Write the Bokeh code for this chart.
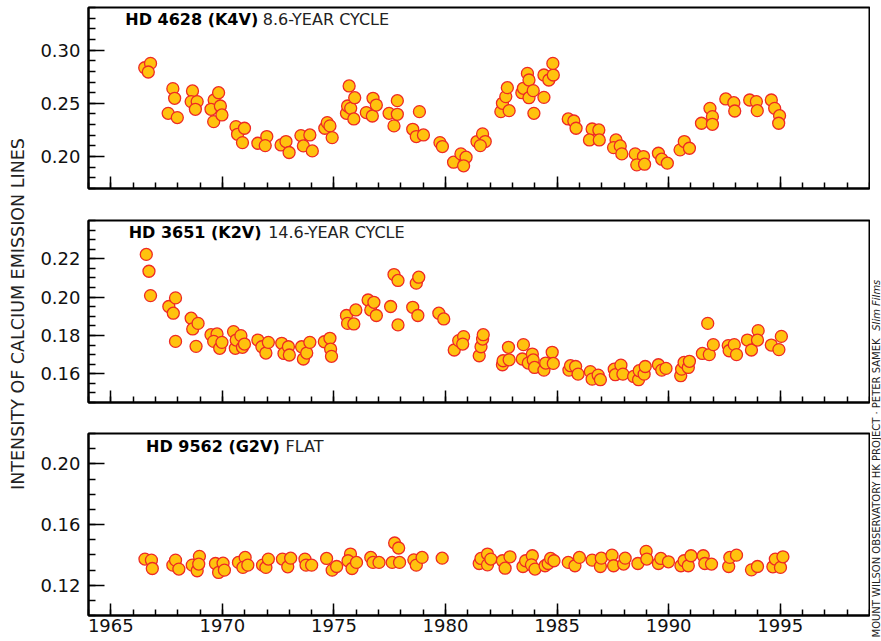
import math
from bokeh.plotting import figure
from bokeh.layouts import row, column
from bokeh.models import Range1d, FixedTicker, PrintfTickFormatter, Label
from bokeh.embed import file_html
from bokeh.resources import INLINE

FONT = "DejaVu Sans"
FILL = "#FFC20E"
EDGE = "#EE2A24"

# ---------------- data ----------------
x_major = [1965, 1970, 1975, 1980, 1985, 1990, 1995]
x_minor = list(range(1964, 2000))

# HD 4628 (K4V)
years_4628 = [
    1966.52, 1966.78, 1966.68,
    1967.78, 1967.86, 1967.57, 1967.98,
    1968.66, 1968.60, 1968.87, 1968.79, 1969.61,
    1969.63, 1969.49, 1969.83, 1969.91, 1969.98,
    1970.61, 1970.68, 1970.99, 1970.90,
    1971.59, 1971.99, 1971.92,
    1972.63, 1972.85, 1972.99,
    1973.52, 1973.63, 1973.92, 1974.03,
    1974.59, 1974.70, 1974.82, 1974.92,
    1975.56, 1975.61, 1975.68, 1975.75, 1975.93, 1975.89,
    1976.45, 1976.75, 1976.72, 1976.90,
    1977.47, 1977.69, 1977.84, 1977.84,
    1978.53, 1978.69, 1978.83, 1979.01,
    1979.75, 1979.86,
    1980.36, 1980.69, 1980.92, 1980.81,
    1981.41, 1981.66, 1981.78, 1981.56,
    1982.48, 1982.55, 1982.70, 1982.77, 1982.85,
    1983.42, 1983.49, 1983.67, 1983.74, 1983.74, 1983.93, 1983.96,
    1984.41, 1984.41, 1984.63, 1984.83, 1984.81,
    1985.50, 1985.75, 1985.85,
    1986.57, 1986.87, 1986.45, 1986.89,
    1987.64, 1987.53, 1987.83, 1987.90,
    1988.50, 1988.87, 1988.57, 1988.92,
    1989.54, 1989.69, 1989.94,
    1990.51, 1990.70, 1990.93,
    1991.47, 1991.85, 1991.96, 1991.96,
    1992.56, 1992.92, 1992.96,
    1993.63, 1993.93, 1993.97,
    1994.60, 1994.75, 1994.97, 1994.93,
]
values_4628 = [
    0.2834, 0.2875, 0.2794,
    0.2638, 0.2547, 0.2406, 0.2366,
    0.2616, 0.2516, 0.2516, 0.2444, 0.2328,
    0.2531, 0.2444, 0.2600, 0.2475, 0.2391,
    0.2281, 0.2209, 0.2266, 0.2131,
    0.2125, 0.2188, 0.2103,
    0.2109, 0.2141, 0.2038,
    0.2197, 0.2100, 0.2203, 0.2053,
    0.2266, 0.2319, 0.2288, 0.2178,
    0.2406, 0.2475, 0.2663, 0.2453, 0.2553, 0.2353,
    0.2413, 0.2547, 0.2381, 0.2484,
    0.2406, 0.2288, 0.2525, 0.2397,
    0.2256, 0.2188, 0.2422, 0.2203,
    0.2131, 0.2094,
    0.1947, 0.2025, 0.1994, 0.1913,
    0.2141, 0.2213, 0.2141, 0.2103,
    0.2422, 0.2500, 0.2563, 0.2647, 0.2431,
    0.2600, 0.2641, 0.2781, 0.2719, 0.2553, 0.2619, 0.2406,
    0.2766, 0.2556, 0.2719, 0.2766, 0.2875,
    0.2353, 0.2334, 0.2266,
    0.2259, 0.2250, 0.2156, 0.2156,
    0.2156, 0.2084, 0.2100, 0.2025,
    0.2025, 0.2000, 0.1922, 0.1928,
    0.2031, 0.1975, 0.1938,
    0.2063, 0.2141, 0.2078,
    0.2313, 0.2453, 0.2375, 0.2303,
    0.2541, 0.2506, 0.2428,
    0.2531, 0.2516, 0.2431,
    0.2531, 0.2453, 0.2384, 0.2313,
]

# HD 3651 (K2V)
years_3651 = [
    1966.59, 1966.71, 1966.78,
    1967.60, 1967.80, 1967.90, 1967.90,
    1968.60, 1968.67, 1968.91, 1968.82,
    1969.49, 1969.76, 1969.61, 1969.88, 1969.98,
    1970.50, 1970.58, 1970.62, 1970.83, 1970.90, 1970.99,
    1971.59, 1971.77, 1971.95, 1972.06,
    1972.66, 1972.76, 1972.96, 1973.00,
    1973.55, 1973.63, 1973.78, 1973.92,
    1974.57, 1974.82, 1974.85, 1974.89,
    1975.56, 1975.61, 1975.89, 1975.98,
    1976.53, 1976.65, 1976.79, 1976.90,
    1977.54, 1977.69, 1977.87, 1977.87,
    1978.53, 1978.69, 1978.80, 1978.76,
    1979.70, 1979.92,
    1980.39, 1980.59, 1980.81, 1980.77,
    1981.51, 1981.59, 1981.66, 1981.69,
    1982.55, 1982.58, 1982.82, 1982.85,
    1983.49, 1983.44, 1983.71, 1983.89, 1983.93, 1983.99,
    1984.41, 1984.49, 1984.78, 1984.83,
    1985.53, 1985.60, 1985.83, 1985.94,
    1986.49, 1986.57, 1986.84, 1986.94,
    1987.56, 1987.61, 1987.86, 1987.95,
    1988.43, 1988.65, 1988.68, 1988.90, 1988.95,
    1989.54, 1989.69, 1989.88,
    1990.54, 1990.58, 1990.69, 1990.88, 1990.93,
    1991.51, 1991.75, 1991.82, 1992.00,
    1992.67, 1992.71, 1992.94, 1993.04,
    1993.53, 1993.71, 1994.01, 1993.98,
    1994.60, 1994.94, 1995.05,
]
values_3651 = [
    0.2223, 0.2135, 0.2008,
    0.1951, 0.1916, 0.1996, 0.1769,
    0.1890, 0.1834, 0.1863, 0.1743,
    0.1804, 0.1808, 0.1769, 0.1733, 0.1764,
    0.1820, 0.1733, 0.1776, 0.1799, 0.1738, 0.1755,
    0.1776, 0.1741, 0.1708, 0.1764,
    0.1759, 0.1706, 0.1741, 0.1698,
    0.1741, 0.1677, 0.1708, 0.1764,
    0.1767, 0.1785, 0.1729, 0.1691,
    0.1904, 0.1863, 0.1860, 0.1933,
    0.1985, 0.1933, 0.1973, 0.1904,
    0.1951, 0.2118, 0.2087, 0.1855,
    0.1947, 0.2073, 0.2104, 0.1904,
    0.1916, 0.1886,
    0.1724, 0.1773, 0.1794, 0.1755,
    0.1694, 0.1741, 0.1781, 0.1804,
    0.1647, 0.1668, 0.1738, 0.1673,
    0.1752, 0.1677, 0.1656, 0.1703, 0.1672, 0.1633,
    0.1619, 0.1656, 0.1712, 0.1654,
    0.1619, 0.1642, 0.1638, 0.1598,
    0.1611, 0.1572, 0.1593, 0.1569,
    0.1624, 0.1595, 0.1645, 0.1598,
    0.1586, 0.1569, 0.1616, 0.1598, 0.1638,
    0.1647, 0.1619, 0.1628,
    0.1590, 0.1624, 0.1659, 0.1633, 0.1665,
    0.1706, 0.1863, 0.1700, 0.1752,
    0.1747, 0.1720, 0.1752, 0.1700,
    0.1776, 0.1724, 0.1825, 0.1776,
    0.1750, 0.1726, 0.1795,
]

# HD 9562 (G2V)
years_9562 = [
    1966.53, 1966.82, 1966.86,
    1967.78, 1967.90, 1968.05,
    1968.65, 1968.87, 1968.97, 1968.94,
    1969.69, 1969.83, 1970.03, 1970.09,
    1970.72, 1971.02, 1970.92, 1971.14,
    1971.80, 1971.95, 1972.06,
    1972.69, 1972.93, 1973.06,
    1973.70, 1973.75, 1974.00,
    1974.67, 1974.92, 1975.12,
    1975.74, 1975.63, 1975.81, 1976.01,
    1976.65, 1976.75, 1977.02,
    1977.61, 1977.72, 1977.90, 1977.94,
    1978.58, 1978.69, 1978.95,
    1979.85,
    1981.51, 1981.59, 1981.88, 1981.88, 1982.03,
    1982.55, 1982.67, 1982.89,
    1983.47, 1983.59, 1983.89, 1983.85, 1984.01,
    1984.46, 1984.60, 1984.71, 1984.86,
    1985.50, 1985.80, 1986.00,
    1986.57, 1986.94, 1986.98, 1987.46, 1987.53,
    1987.98, 1988.05, 1988.62, 1988.99, 1989.02,
    1989.54, 1989.65, 1989.99,
    1990.55, 1990.69, 1990.88, 1991.00,
    1991.55, 1991.62, 1991.92,
    1992.69, 1992.74, 1993.04,
    1993.71, 1993.98,
    1994.67, 1994.78, 1995.01, 1995.12,
]
values_9562 = [
    0.1372, 0.1365, 0.1310,
    0.1332, 0.1365, 0.1306,
    0.1332, 0.1295, 0.1390, 0.1339,
    0.1343, 0.1284, 0.1345, 0.1299,
    0.1350, 0.1383, 0.1317, 0.1332,
    0.1332, 0.1317, 0.1372,
    0.1372, 0.1321, 0.1378,
    0.1372, 0.1332, 0.1332,
    0.1376, 0.1299, 0.1323,
    0.1405, 0.1361, 0.1310, 0.1350,
    0.1383, 0.1350, 0.1350,
    0.1350, 0.1478, 0.1445, 0.1350,
    0.1367, 0.1332, 0.1383,
    0.1378,
    0.1343, 0.1376, 0.1405, 0.1334, 0.1372,
    0.1361, 0.1312, 0.1387,
    0.1323, 0.1361, 0.1394, 0.1334, 0.1306,
    0.1328, 0.1343, 0.1376, 0.1361,
    0.1350, 0.1328, 0.1383,
    0.1365, 0.1323, 0.1378, 0.1398, 0.1328,
    0.1339, 0.1378, 0.1343, 0.1423, 0.1372,
    0.1343, 0.1376, 0.1354,
    0.1328, 0.1361, 0.1328, 0.1394,
    0.1394, 0.1343, 0.1339,
    0.1323, 0.1383, 0.1398,
    0.1301, 0.1323,
    0.1321, 0.1372, 0.1317, 0.1387,
]

star_names = ["HD 4628 (K4V)", "HD 3651 (K2V)", "HD 9562 (G2V)"]
star_notes = ["8.6-YEAR CYCLE", "14.6-YEAR CYCLE", "FLAT"]
y_label = "INTENSITY OF CALCIUM EMISSION LINES"
credit_main = "MOUNT WILSON OBSERVATORY HK PROJECT \u00b7 PETER SAMEK"
credit_italic = "Slim Films"

# y-axis setups per panel: (lo, hi, majors, minor step)
y_specs = [
    (0.17, 0.34, [0.20, 0.25, 0.30], 0.01),
    (0.145, 0.24, [0.16, 0.18, 0.20, 0.22], 0.005),
    (0.10, 0.22, [0.12, 0.16, 0.20], 0.01),
]

# ---------------- layout constants ----------------
LEFT_W = 36
PANEL_W = 834
RIGHT_W = 11
BORDER_L = 52
heights = [204, 213, 223]
tops = [7, 16, 16]
bottoms = [16, 15, 25]
title_pos = [  # (bold x, normal x, y) in data units of each panel
    (1965.65, 1971.81, 0.3287),
    (1965.80, 1972.05, 0.2339),
    (1966.58, 1972.83, 0.2111),
]

xr = Range1d(1964, 1999)


def make_panel(i, years, vals, show_labels):
    lo, hi, majors, step = y_specs[i]
    n = int(round((hi - lo) / step))
    minors = [round(lo + k * step, 4) for k in range(n + 1)]
    p = figure(width=PANEL_W, height=heights[i], x_range=xr,
               y_range=Range1d(lo, hi), output_backend="svg",
               toolbar_location=None, min_border_left=BORDER_L,
               min_border_right=1, min_border_top=tops[i],
               min_border_bottom=bottoms[i])
    p.grid.visible = False
    p.outline_line_color = "black"
    p.outline_line_width = 2
    p.outline_line_alpha = 1
    p.background_fill_color = "white"
    p.border_fill_color = "white"

    p.scatter(years, vals, size=12, fill_color=FILL, line_color=EDGE,
              line_width=1.3)

    xa = p.xaxis[0]
    xa.ticker = FixedTicker(ticks=x_major, minor_ticks=x_minor)
    xa.axis_line_width = 2
    xa.axis_line_color = "black"
    xa.major_tick_in = 12
    xa.major_tick_out = 0
    xa.minor_tick_in = 6
    xa.minor_tick_out = 0
    xa.major_tick_line_width = 1.5
    xa.minor_tick_line_width = 1.5
    xa.major_tick_line_color = "black"
    xa.minor_tick_line_color = "black"
    xa.major_label_text_font = FONT
    xa.major_label_text_font_size = "18px"
    xa.major_label_text_color = "#111111"
    xa.major_label_standoff = 3
    if not show_labels:
        xa.major_label_overrides = {t: "" for t in x_major}
        xa.major_label_standoff = 0

    ya = p.yaxis[0]
    ya.ticker = FixedTicker(ticks=majors, minor_ticks=minors)
    ya.formatter = PrintfTickFormatter(format="%.2f")
    ya.axis_line_width = 2
    ya.axis_line_color = "black"
    ya.major_tick_in = 16
    ya.major_tick_out = 0
    ya.minor_tick_in = 7
    ya.minor_tick_out = 0
    ya.major_tick_line_width = 1.5
    ya.minor_tick_line_width = 1.5
    ya.major_tick_line_color = "black"
    ya.minor_tick_line_color = "black"
    ya.major_label_text_font = FONT
    ya.major_label_text_font_size = "18px"
    ya.major_label_text_color = "#111111"
    ya.major_label_standoff = 8

    bx, nx, ty = title_pos[i]
    p.add_layout(Label(x=bx, y=ty, text=star_names[i], text_font=FONT,
                       text_font_style="bold", text_font_size="16px",
                       text_baseline="middle", text_align="left",
                       text_color="black"))
    p.add_layout(Label(x=nx, y=ty, text=star_notes[i], text_font=FONT,
                       text_font_style="normal", text_font_size="16px",
                       text_baseline="middle", text_align="left",
                       text_color="#222222"))
    return p


p1 = make_panel(0, years_4628, values_4628, False)
p2 = make_panel(1, years_3651, values_3651, False)
p3 = make_panel(2, years_9562, values_9562, True)

TOTAL_H = sum(heights)


def side_fig(w):
    f = figure(width=w, height=TOTAL_H, x_range=Range1d(0, 1),
               y_range=Range1d(0, 1), output_backend="svg",
               toolbar_location=None, x_axis_location=None,
               y_axis_location=None, min_border=0)
    f.grid.visible = False
    f.outline_line_color = None
    f.background_fill_color = "white"
    f.border_fill_color = "white"
    return f


left = side_fig(LEFT_W)
left.add_layout(Label(x=17.5 / LEFT_W, y=1 - 313.5 / TOTAL_H, text=y_label,
                      angle=math.pi / 2, text_font=FONT,
                      text_font_size="17.5px", text_align="center",
                      text_baseline="middle", text_color="#222222"))

right = side_fig(RIGHT_W)
main_fs = 10
main_len = 30.175 * main_fs
start_px = 637.0
right.add_layout(Label(x=0.52, y=1 - start_px / TOTAL_H, text=credit_main,
                       angle=math.pi / 2, text_font=FONT,
                       text_font_size=f"{main_fs}px", text_align="left",
                       text_baseline="middle", text_color="#222222"))
right.add_layout(Label(x=0.52, y=1 - (start_px - main_len - 5) / TOTAL_H,
                       text=credit_italic, angle=math.pi / 2, text_font=FONT,
                       text_font_style="italic",
                       text_font_size=f"{main_fs}px", text_align="left",
                       text_baseline="middle", text_color="#222222"))

layout = row(left, column(p1, p2, p3), right)

with open("out.html", "w") as fh:
    fh.write(file_html(layout, INLINE))
